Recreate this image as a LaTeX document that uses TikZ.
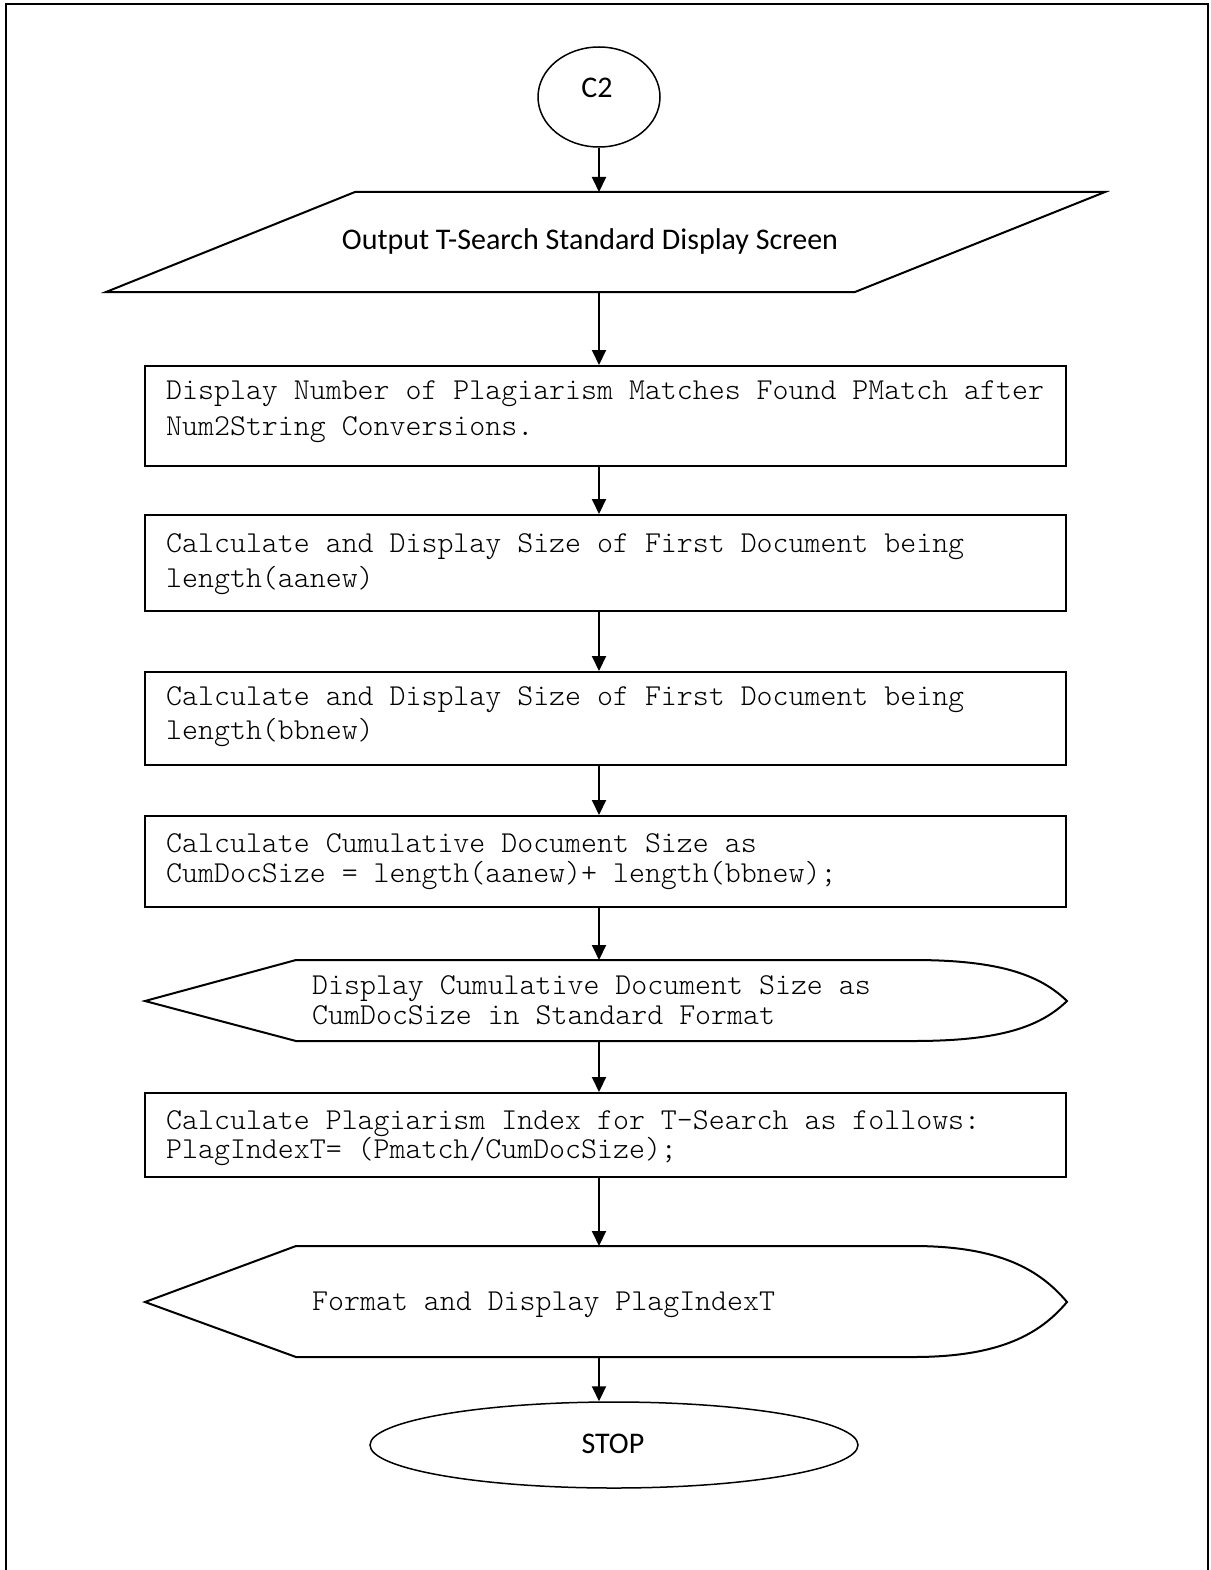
\documentclass[tikz,border=0pt]{standalone}
\usepackage{fontspec}
\setmainfont{Carlito}
\newfontfamily\codefont{lmmonolt10-regular.otf}
\usetikzlibrary{arrows.meta,shapes.geometric}

\tikzset{
  frameline/.style={line width=2pt},
  procbox/.style={draw, rectangle, line width=2pt, inner sep=0pt},
  term/.style={draw, ellipse, line width=1.5pt, inner sep=0pt},
  ghost/.style={rectangle, inner sep=0pt, draw=none},
  outline/.style={line width=2pt, line join=miter},
  flow/.style={line width=2pt, -{Triangle[length=15pt,width=14pt]}},
  codetext/.style={anchor=base west, inner sep=0pt, font=\codefont\fontsize{30.4}{36}\selectfont},
  sanstext/.style={anchor=base, inner sep=0pt, font=\fontsize{30}{34}\selectfont},
}

\begin{document}
\begin{tikzpicture}[x=1pt, y=-1pt]
\useasboundingbox (0,0) rectangle (1210,1570);

% page frame, open at the bottom
\draw[frameline] (6,1572) -- (6,4) -- (1208,4) -- (1208,1572);

% connector C2
\node[term, minimum width=122, minimum height=100] (c2) at (599,97) {};
\node[sanstext] (c2t) at (597,98) {C2};

% output parallelogram
\node[ghost, minimum width=999, minimum height=100] (out) at (605.5,242) {};
\draw[outline] (355,192) -- (1105,192) -- (855,292) -- (106,292) -- cycle;
\node[sanstext] (outt) at (590,250) {Output T-Search Standard Display Screen};

% process boxes
\node[procbox, minimum width=921, minimum height=100] (b1) at (605.5,416) {};
\node[codetext] (b1a) at (166,399) {Display Number of Plagiarism Matches Found PMatch after};
\node[codetext] (b1b) at (166,435) {Num2String Conversions.};

\node[procbox, minimum width=921, minimum height=96] (b2) at (605.5,563) {};
\node[codetext] (b2a) at (166,552) {Calculate and Display Size of First Document being};
\node[codetext] (b2b) at (166,587) {length(aanew)};

\node[procbox, minimum width=921, minimum height=93] (b3) at (605.5,718.5) {};
\node[codetext] (b3a) at (166,705) {Calculate and Display Size of First Document being};
\node[codetext] (b3b) at (166,739) {length(bbnew)};

\node[procbox, minimum width=921, minimum height=91] (b4) at (605.5,861.5) {};
\node[codetext] (b4a) at (166,852) {Calculate Cumulative Document Size as};
\node[codetext] (b4b) at (166,882) {CumDocSize = length(aanew)+ length(bbnew);};

% first display shape
\node[ghost, minimum width=922, minimum height=81] (d1) at (606,1000.5) {};
\draw[outline] (145,1001) -- (296,960) -- (913,960)
  .. controls (1000,960) and (1040,975) .. (1067,1001)
  .. controls (1040,1027) and (1000,1041) .. (913,1041)
  -- (296,1041) -- cycle;
\node[codetext] (d1a) at (312,994) {Display Cumulative Document Size as};
\node[codetext] (d1b) at (312,1024) {CumDocSize in Standard Format};

\node[procbox, minimum width=921, minimum height=84] (b5) at (605.5,1135) {};
\node[codetext] (b5a) at (166,1129) {Calculate Plagiarism Index for T-Search as follows:};
\node[codetext] (b5b) at (166,1158) {PlagIndexT= (Pmatch/CumDocSize);};

% second display shape
\node[ghost, minimum width=922, minimum height=111] (d2) at (606,1301.5) {};
\draw[outline] (145,1302) -- (296,1246) -- (913,1246)
  .. controls (1000,1246) and (1040,1270) .. (1067,1302)
  .. controls (1040,1334) and (1000,1357) .. (913,1357)
  -- (296,1357) -- cycle;
\node[codetext] (d2a) at (312,1310) {Format and Display PlagIndexT};

% terminator
\node[term, minimum width=488, minimum height=86] (stop) at (614,1445) {};
\node[sanstext] (stopt) at (613,1453) {STOP};

% flow connectors
\draw[flow] (c2.south) -- (599,192);
\draw[flow] (599,292) -- (b1.north -| 599,0);
\draw[flow] (b1.south -| 599,0) -- (b2.north -| 599,0);
\draw[flow] (b2.south -| 599,0) -- (b3.north -| 599,0);
\draw[flow] (b3.south -| 599,0) -- (b4.north -| 599,0);
\draw[flow] (b4.south -| 599,0) -- (599,960);
\draw[flow] (599,1041) -- (b5.north -| 599,0);
\draw[flow] (b5.south -| 599,0) -- (599,1246);
\draw[flow] (599,1357) -- (stop.north -| 599,0);
\end{tikzpicture}
\end{document}
